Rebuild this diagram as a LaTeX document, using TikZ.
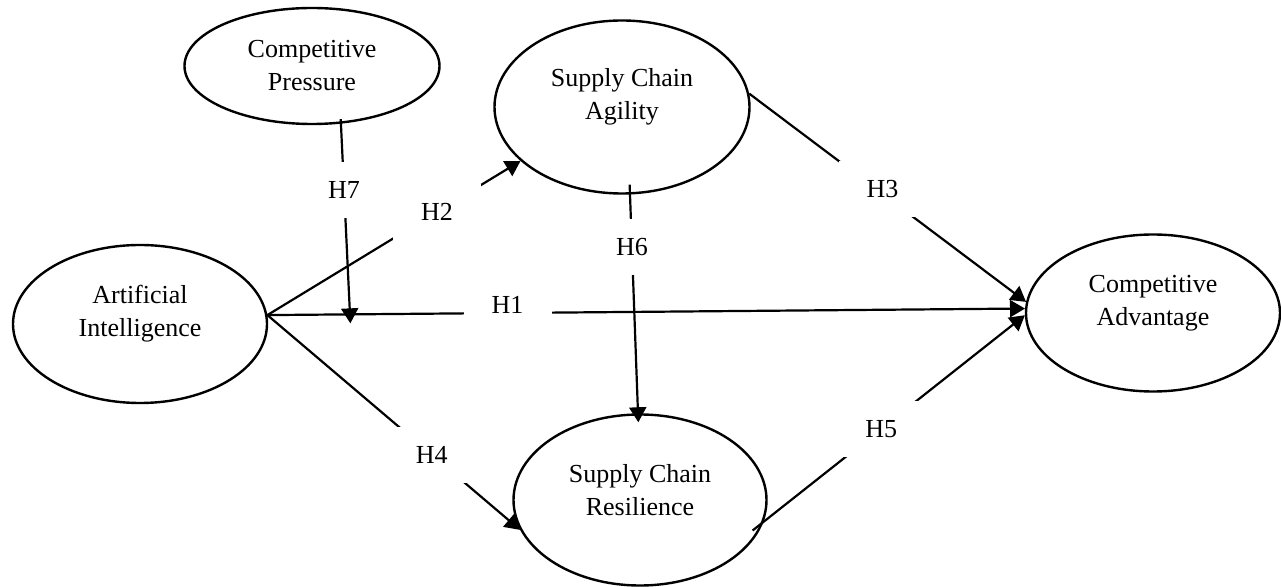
\documentclass[tikz,border=0pt]{standalone}
\usepackage{fontspec}
\setmainfont{Liberation Serif}
\usetikzlibrary{shapes.geometric,arrows.meta}
\tikzset{cons/.style={ellipse,draw,line width=1.2pt,inner sep=0pt},
  txt/.style={align=center,font=\fontsize{13}{16.5}\selectfont},
  hyp/.style={fill=white,minimum width=44pt,minimum height=28pt,inner sep=0pt,font=\fontsize{13}{16}\selectfont},
  link/.style={line width=1.1pt,-{Triangle[length=7.5pt,width=8.5pt]}}}

\begin{document}
\begin{tikzpicture}[x=0.5pt,y=-0.5pt]
\useasboundingbox (0,0) rectangle (1281,587);

% constructs
\node[cons,minimum width=127.5pt,minimum height=58pt,
  label={[txt,name=cpt]center:Competitive\\Pressure}] (cp) at (312,66) {};
\node[cons,minimum width=127.5pt,minimum height=86.5pt,
  label={[txt,name=scat,yshift=5pt]center:Supply Chain\\Agility}] (sca) at (622,107) {};
\node[cons,minimum width=127pt,minimum height=79pt,
  label={[txt,name=ait,yshift=5pt]center:Artificial\\Intelligence}] (ai) at (140,324) {};
\node[cons,minimum width=127pt,minimum height=78.5pt,
  label={[txt,name=cat,yshift=5pt]center:Competitive\\Advantage}] (ca) at (1153,313) {};
\node[cons,minimum width=126.5pt,minimum height=85.5pt,
  label={[txt,name=scrt,yshift=5pt]center:Supply Chain\\Resilience}] (scr) at (640,500) {};

% hypotheses
\draw[link] (ai.4) -- coordinate[pos=0.109] (mod) node[hyp,pos=0.317,yshift=4pt] (h1) {H1} (ca.178);
\draw[link] (ai.4) -- node[hyp,pos=0.67] (h2) {H2} (sca.208);
\draw[link] (sca.6) -- node[hyp,pos=0.46,xshift=3pt] (h3) {H3} (ca.175);
\draw[link] (ai.4) -- node[hyp,pos=0.65] (h4) {H4} (scr.194);
\draw[link,shorten <=-7pt] (scr.-10) -- node[hyp,pos=0.45] (h5) {H5} (ca.181);
\draw[link,shorten <=-5pt,shorten >=-4.5pt] ([xshift=4pt]sca.south) -- node[hyp,pos=0.24] (h6) {H6} ([xshift=-1pt]scr.north);

% moderator
\draw[link,shorten <=-3pt,shorten >=-4.5pt] ([xshift=14.5pt]cp.south) -- node[hyp,pos=0.34] (h7) {H7} (mod);
\end{tikzpicture}
\end{document}
